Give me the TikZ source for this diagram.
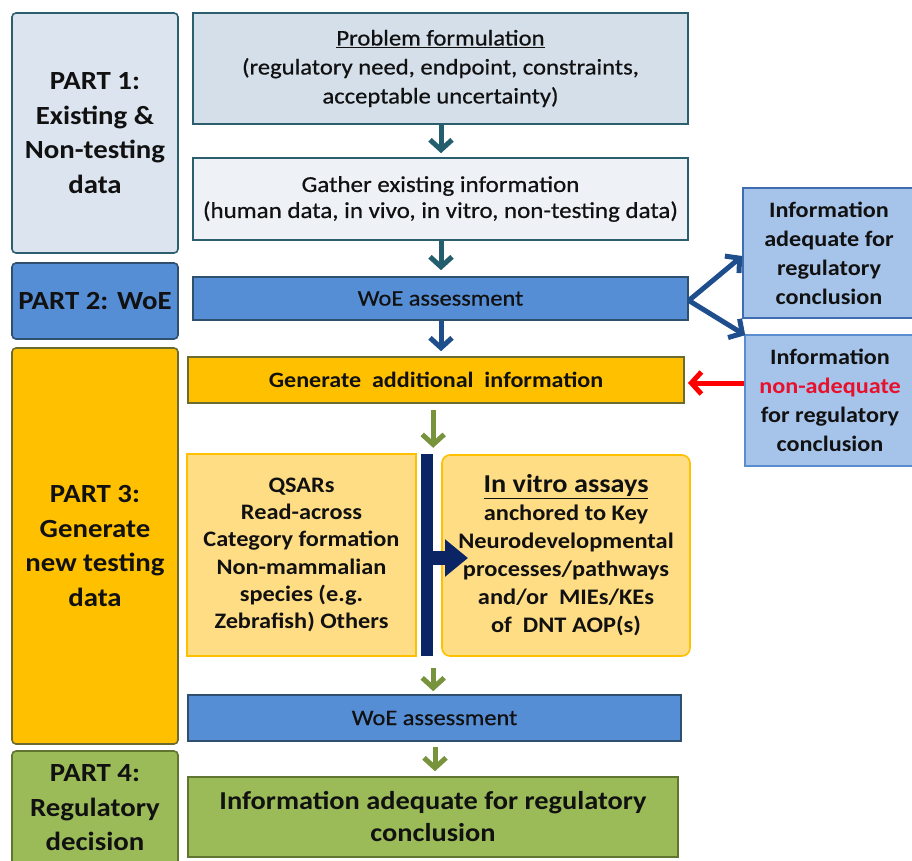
\documentclass[tikz,border=0pt]{standalone}
\usepackage{fontspec}
\setmainfont{Carlito}[FakeStretch=1.1]
\newfontfamily\medfont{Carlito}[FakeStretch=1.1, FakeBold=0.6]
\usetikzlibrary{arrows.meta}
\definecolor{pone}{HTML}{DCE4EF}
\definecolor{probfill}{HTML}{D5DFEA}
\definecolor{gathfill}{HTML}{EEF2F6}
\definecolor{teal}{HTML}{2C5F6E}
\definecolor{tealarr}{HTML}{235E6E}
\definecolor{woefill}{HTML}{558ED5}
\definecolor{woedraw}{HTML}{2F4F6F}
\definecolor{darkblue}{HTML}{1F4E8C}
\definecolor{gold}{HTML}{FFC000}
\definecolor{olive}{HTML}{6B6B30}
\definecolor{lightgold}{HTML}{FFDD85}
\definecolor{navy}{HTML}{0B2463}
\definecolor{greenarr}{HTML}{77933C}
\definecolor{greenfill}{HTML}{9BBB59}
\definecolor{greendraw}{HTML}{5F7530}
\definecolor{infofill}{HTML}{A6C3E9}
\definecolor{infodraw}{HTML}{3F6DB0}
\definecolor{infodrawb}{HTML}{5A8CD0}
\definecolor{redtext}{HTML}{E8112D}
\definecolor{txt}{HTML}{111111}
\tikzset{
  box/.style={draw, line width=1.6, inner sep=0pt, align=center, text=txt},
  partbox/.style={box, rounded corners=4, font=\bfseries\fontsize{26.2}{34.5}\selectfont},
  vbar/.style={-{Straight Barb[length=10,width=22]}, line width=5},
}
\begin{document}
\begin{tikzpicture}[x=1pt,y=-1pt]
\useasboundingbox (0,0) rectangle (912,860);
% left part boxes
\node[partbox, fill=pone, draw=teal, minimum width=166, minimum height=240] (p1) at (95,133) {PART 1:\\Existing \&\\Non-testing\\data};
\node[partbox, fill=woefill, draw=woedraw, minimum width=166, minimum height=76] (p2) at (95,301) {PART 2: WoE};
\node[partbox, fill=gold, draw=olive, minimum width=166, minimum height=396] (p3) at (95,546) {PART 3:\\Generate\\new testing\\data};
\node[partbox, fill=greenfill, draw=greendraw, minimum width=166, minimum height=114] (p4) at (95,808) {PART 4:\\Regulatory\\decision};
% main column
\node[box, fill=probfill, draw=teal, minimum width=495, minimum height=111, font=\medfont\fontsize{22.4}{29}\selectfont] (prob) at (440.5,68.5) {\underline{Problem formulation}\\(regulatory need, endpoint, constraints,\\acceptable uncertainty)};
\node[box, fill=gathfill, draw=teal, minimum width=495, minimum height=82, font=\medfont\fontsize{22.7}{26}\selectfont] (gath) at (440.5,199) {Gather existing information\\(human data, in vivo, in vitro, non-testing data)};
\node[box, fill=woefill, draw=woedraw, minimum width=495, minimum height=43, font=\medfont\fontsize{22.2}{27}\selectfont] (woe1) at (440.5,298.5) {WoE assessment};
\node[box, fill=gold, draw=olive, minimum width=496, minimum height=46, font=\bfseries\fontsize{21.9}{27}\selectfont] (gen) at (436,380) {Generate\ \ additional\ \ information};
\node[box, fill=infofill, draw=infodraw, minimum width=172, minimum height=130, font=\bfseries\fontsize{22}{29}\selectfont] (adq) at (829,253) {Information\\adequate for\\regulatory\\conclusion};
\node[box, fill=infofill, draw=infodrawb, minimum width=170, minimum height=131, font=\bfseries\fontsize{22}{29}\selectfont] (nadq) at (830,400.5) {Information\\{\color{redtext}non-adequate}\\for regulatory\\conclusion};
\node[box, fill=lightgold, draw=gold, minimum width=229, minimum height=202, font=\bfseries\fontsize{22.1}{27.3}\selectfont] (qsar) at (301.5,555) {QSARs\\Read-across\\Category formation\\Non-mammalian\\species (e.g.\\Zebrafish) Others};
\node[fill=navy, inner sep=0pt, minimum width=12, minimum height=202] (bar) at (427,555) {};
\node[box, fill=lightgold, draw=gold, rounded corners=8, minimum width=248, minimum height=201, font=\bfseries\fontsize{22.2}{28}\selectfont] (vitro) at (566,555.5) {{\fontsize{25.7}{30}\selectfont\underline{In vitro assays}}\\anchored to Key\\Neurodevelopmental\\processes/pathways\\and/or\ \ MIEs/KEs\\of\ \ DNT AOP(s)};
\node[box, fill=woefill, draw=woedraw, minimum width=493, minimum height=46, font=\medfont\fontsize{22.2}{27}\selectfont] (woe2) at (434.5,718) {WoE assessment};
\node[box, fill=greenfill, draw=greendraw, minimum width=490, minimum height=80, font=\bfseries\fontsize{25.8}{32}\selectfont] (fin) at (433,817) {Information adequate for regulatory\\conclusion};
% connectors
\draw[vbar, tealarr] ([xshift=0.5]prob.south) -- ([xshift=0.5,yshift=4]gath.north);
\draw[vbar, tealarr] ([xshift=0.5]gath.south) -- ([xshift=0.5,yshift=6]woe1.north);
\draw[vbar, darkblue] ([xshift=0.5]woe1.south) -- ([xshift=5,yshift=5]gen.north);
\draw[vbar, greenarr] ([yshift=-6]gen.south -| bar.north east) -- ([yshift=6]bar.north east);
\draw[navy, line width=14, -{Triangle[length=23,width=36]}] (bar.east |- 0,558) -- (468,558);
\draw[vbar, greenarr] ([yshift=-12]bar.south east) -- ([yshift=3]woe2.north -| bar.east);
\draw[vbar, greenarr] ([yshift=-5]woe2.south -| 435,0) -- ([yshift=5]fin.north -| 435,0);
\draw[vbar, darkblue] ([yshift=-2]woe1.east) -- ([yshift=-3]adq.west);
\draw[vbar, darkblue] ([yshift=-2]woe1.east) -- ([xshift=1,yshift=-1]nadq.north west);
\draw[vbar, red] (nadq.west |- 0,383) -- (688,383);
\end{tikzpicture}
\end{document}
